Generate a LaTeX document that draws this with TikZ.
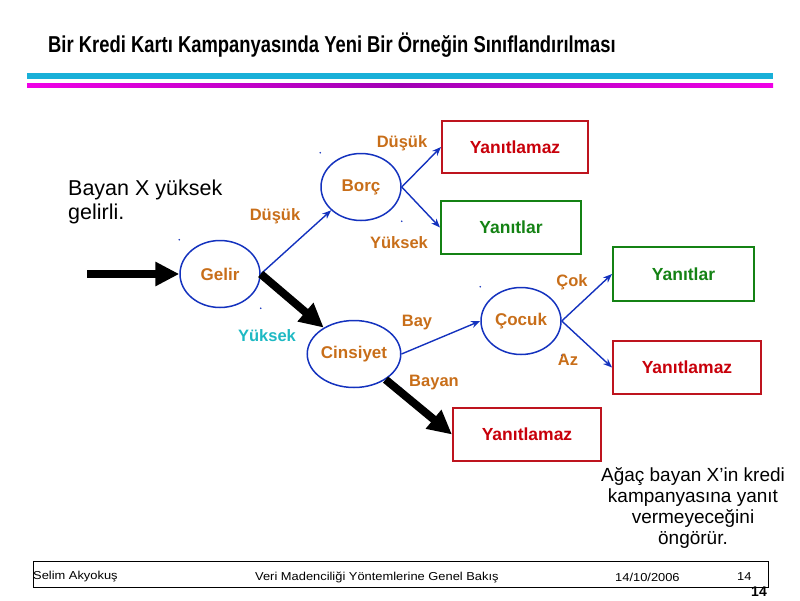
\documentclass[tikz,border=0pt]{standalone}
\usepackage{fontspec}
\setmainfont{Liberation Sans}
\newfontfamily\narrowfont[FakeStretch=0.8]{Liberation Sans}
\newfontfamily\footfont[FakeStretch=1.12]{Liberation Sans}
\usetikzlibrary{shapes.geometric,arrows.meta}

\definecolor{elblue}{RGB}{20,50,190}
\definecolor{lblorange}{RGB}{200,110,25}
\definecolor{boxred}{RGB}{190,20,30}
\definecolor{txtred}{RGB}{200,0,10}
\definecolor{boxgreen}{RGB}{20,130,20}
\definecolor{lblcyan}{RGB}{30,185,195}
\definecolor{barcyan}{RGB}{25,176,216}
\definecolor{barmag}{RGB}{240,0,230}
\definecolor{barpurple}{RGB}{160,0,180}

\begin{document}
\begin{tikzpicture}[x=1pt,y=-1pt,
		elnode/.style={draw=elblue,line width=1.5pt,ellipse,inner sep=0pt,minimum width=80pt,minimum height=67pt,text=lblorange,font=\bfseries\fontsize{17}{20}\selectfont},
		redbox/.style={draw=boxred,line width=2pt,text=txtred,inner sep=0pt,font=\bfseries\fontsize{17.5}{20}\selectfont},
		greenbox/.style={draw=boxgreen,line width=2pt,text=boxgreen,inner sep=0pt,font=\bfseries\fontsize{17.5}{20}\selectfont},
		lbl/.style={text=lblorange,font=\bfseries\fontsize{16.5}{19}\selectfont,inner sep=0pt},
		thin arrow/.style={draw=elblue,line width=1.4pt,-{Stealth[length=9pt,width=7pt]}},
		thick arrow/.style={draw=black,line width=8pt,-{Triangle[length=24pt,width=23pt]}}]
		\useasboundingbox (0,0) rectangle (800,600);

		% title and bars
		\node[anchor=west,inner sep=0pt,font=\narrowfont\bfseries\fontsize{23}{26}\selectfont] (title) at (48,45) {Bir Kredi Kartı Kampanyasında Yeni Bir Örneğin Sınıflandırılması};
		\fill[barcyan] (27,73) rectangle (773,79);
		\shade[left color=barmag,right color=barmag,middle color=barpurple] (27,83) rectangle (773,87);

		% tree nodes
		\node[elnode] (gelir) at (220,274) {Gelir};
		\node[elnode] (borc) at (361,187) {Borç};
		\node[elnode] (cins) at (354,354) {Cinsiyet};
		\node[elnode] (cocuk) at (521,321) {Çocuk};

		\node[redbox,minimum width=146pt,minimum height=52pt] (yan1) at (515,147) {Yanıtlamaz};
		\node[greenbox,minimum width=140pt,minimum height=53pt] (yes1) at (511,227.5) {Yanıtlar};
		\node[greenbox,minimum width=141pt,minimum height=54pt] (yes2) at (683.5,274) {Yanıtlar};
		\node[redbox,minimum width=148pt,minimum height=53pt] (yan2) at (687,367.5) {Yanıtlamaz};
		\node[redbox,minimum width=148pt,minimum height=53pt] (yan3) at (527,434.5) {Yanıtlamaz};

		% corner dots
		\foreach \n in {gelir,borc,cins,cocuk} {
			\fill[elblue] (\n.west |- \n.north) circle (0.9pt);
			\fill[elblue] (\n.east |- \n.south) circle (0.9pt);
		}

		% connectors
		\coordinate (start) at (87,274);
		\draw[thick arrow] (start) -- (gelir.west);
		\draw[thin arrow] (gelir.east) -- (borc.218);
		\draw[thick arrow] (gelir.east) -- (cins.139);
		\draw[thin arrow] (borc.east) -- (yan1.west);
		\draw[thin arrow] (borc.east) -- (yes1.west);
		\draw[thin arrow] (cins.east) -- (cocuk.west);
		\draw[thick arrow] (cins.-39) -- (yan3.west);
		\draw[thin arrow] (cocuk.east) -- (yes2.west);
		\draw[thin arrow] (cocuk.east) -- (yan2.west);

		% edge labels
		\node[lbl] (l1) at (402,143) {Düşük};
		\node[lbl] (l2) at (275,216) {Düşük};
		\node[lbl] (l3) at (399,243) {Yüksek};
		\node[lbl,text=lblcyan] (l4) at (267,336) {Yüksek};
		\node[lbl] (l5) at (417,323) {Bay};
		\node[lbl] (l6) at (434,383) {Bayan};
		\node[lbl] (l7) at (572,282) {Çok};
		\node[lbl] (l8) at (568,360) {Az};

		% texts
		\node[anchor=west,align=left,inner sep=0pt,font=\fontsize{21.5}{24.5}\selectfont] (given) at (68,202) {Bayan X yüksek\\gelirli.};
		\node[align=center,inner sep=0pt,font=\fontsize{19}{21}\selectfont] (result) at (693,508) {Ağaç bayan X’in kredi\\kampanyasına yanıt\\vermeyeceğini\\öngörür.};

		% footer
		\draw[line width=1pt] (33,561) rectangle (768,587);
		\node[anchor=west,inner sep=0pt,font=\footfont\fontsize{11.5}{13}\selectfont] (f1) at (33,577) {Selim Akyokuş};
		\node[anchor=west,inner sep=0pt,font=\footfont\fontsize{11.5}{13}\selectfont] (f2) at (255,577) {Veri Madenciliği Yöntemlerine Genel Bakış};
		\node[anchor=west,inner sep=0pt,font=\footfont\fontsize{11.5}{13}\selectfont] (f3) at (615,577) {14/10/2006};
		\node[anchor=west,inner sep=0pt,font=\footfont\fontsize{11.5}{13}\selectfont] (f4) at (737,577) {14};
		\node[anchor=east,inner sep=0pt,font=\bfseries\fontsize{14}{16}\selectfont] (pg) at (767,592) {14};
	\end{tikzpicture}
\end{document}
